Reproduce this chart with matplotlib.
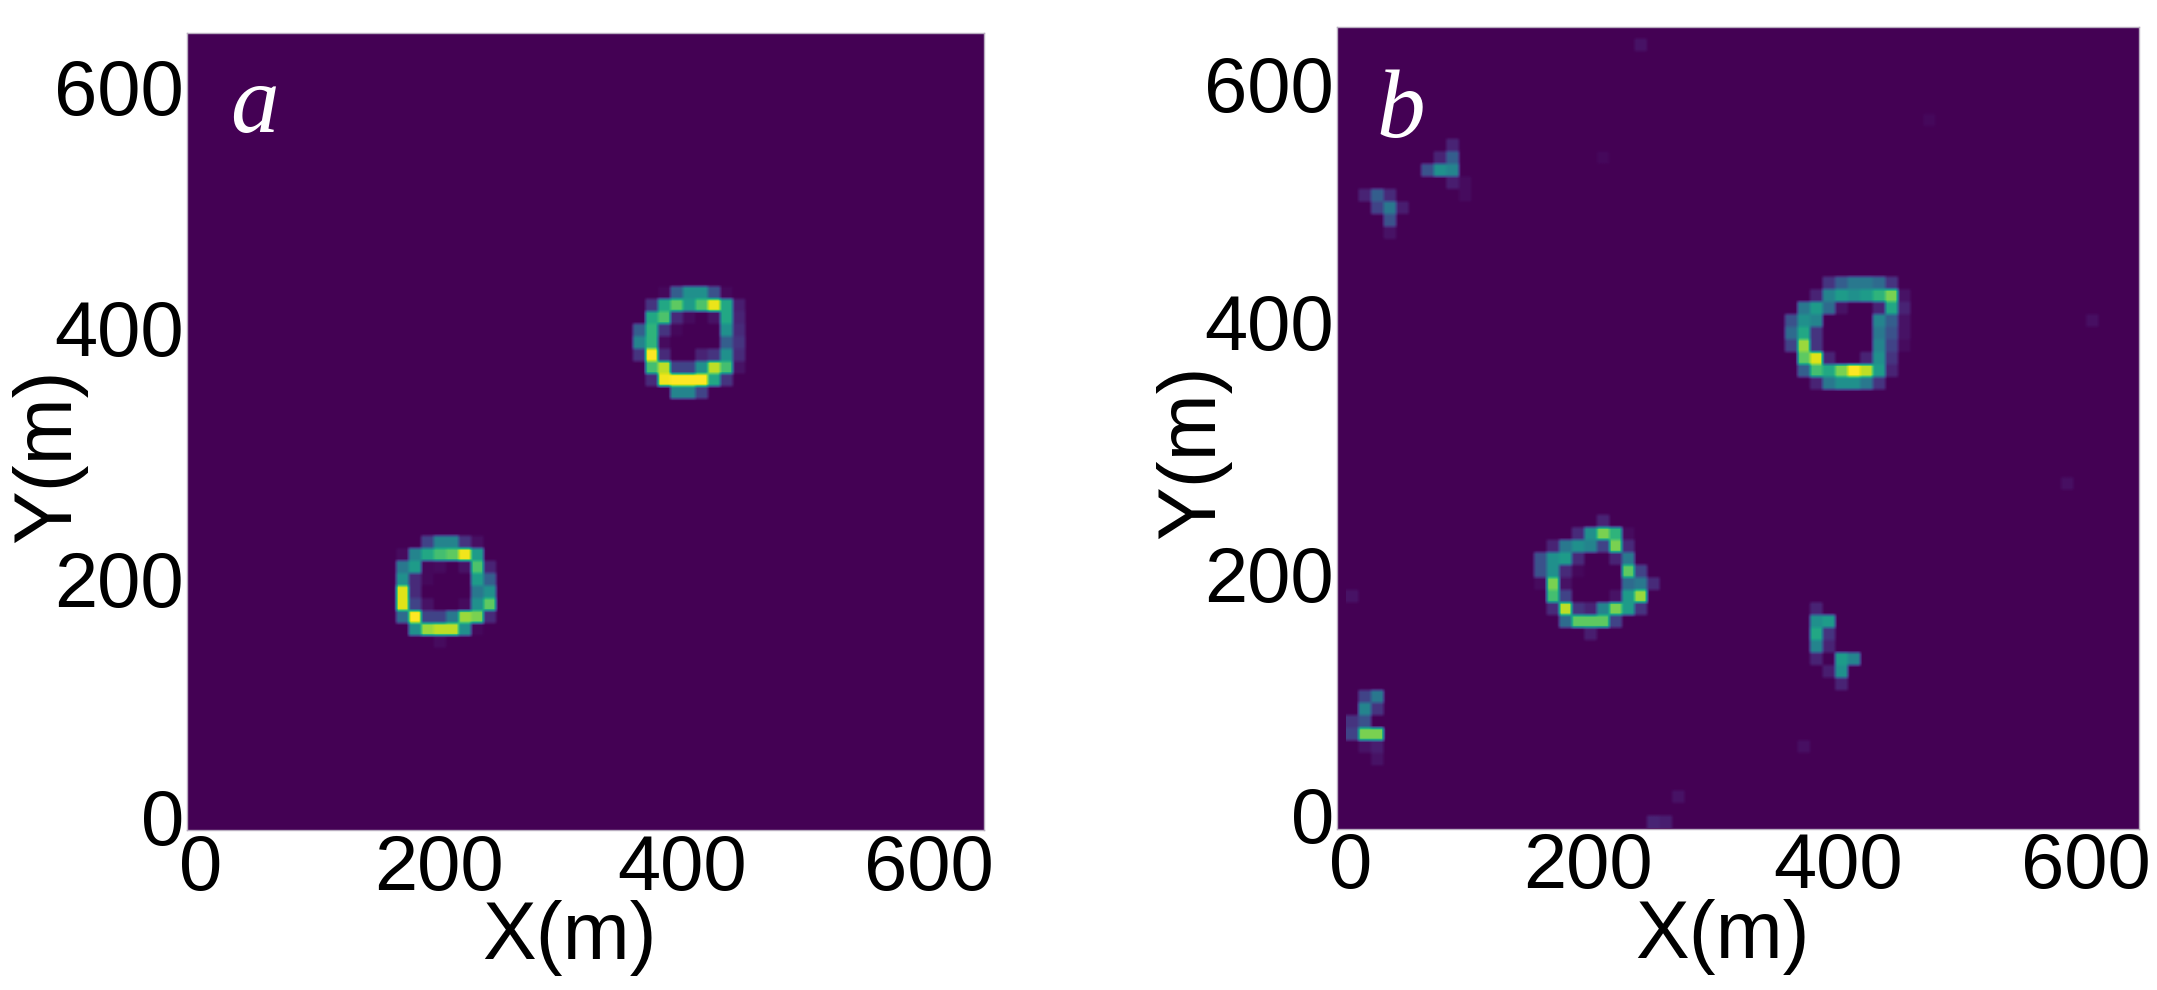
import numpy as np
import matplotlib.pyplot as plt
from matplotlib.transforms import ScaledTranslation

plt.rcParams['font.family'] = ['Liberation Sans', 'DejaVu Sans']

ncell = 64
cell = 10  # metres per cell
ticks = [0, 200, 400, 600]

# each patch: (first column, top row, rows of values from top to bottom)
a_ring1 = (17, 23, [
    [0, 0, .2, .45, .45, .15, .04, 0],
    [.03, .45, .6, .7, .75, .98, .55, 0],
    [.4, .55, .02, .03, 0, .05, .72, .1],
    [.5, .12, .02, 0, 0, 0, .55, .3],
    [.95, .12, 0, 0, 0, 0, .4, .5],
    [.95, .2, .05, 0, 0, .03, .5, .75],
    [.35, 1.0, .2, .2, .4, .85, .8, .12],
    [0, .5, .85, .9, .9, .5, .02, 0],
    [0, 0, 0, .03, 0, 0, 0, 0],
])
a_ring2 = (36, 43, [
    [0, 0, .02, .3, .5, .5, .25, .02, 0],
    [0, .15, .6, .75, .55, .72, .97, .6, .08],
    [0, .6, .72, .12, .03, 0, .05, .6, .1],
    [.3, .65, .15, .02, 0, 0, 0, .5, .12],
    [.45, .65, .03, 0, 0, 0, 0, .3, .15],
    [.15, 1.0, .12, 0, 0, .1, .15, .5, .12],
    [0, .7, .9, .2, .2, .5, .9, .7, .05],
    [0, .12, .98, 1.0, 1.0, 1.0, .6, .15, 0],
    [0, 0, 0, .45, .45, .2, 0, 0, 0],
])

b_ring1 = (15, 24, [
    [0, 0, 0, 0, 0, .1, 0, 0, 0, 0],
    [0, 0, 0, .12, .5, .8, .65, .03, 0, 0],
    [0, .1, .4, .5, .45, .2, .8, .12, 0, 0],
    [.25, .5, .55, .12, 0, 0, .1, .4, 0, 0],
    [.25, .5, .12, .02, 0, 0, 0, .75, .2, 0],
    [.03, .8, .05, 0, 0, 0, 0, .35, .4, .12],
    [0, .7, .2, 0, 0, 0, .05, .55, .85, 0],
    [0, .12, .9, .15, .1, .45, .8, .55, .15, 0],
    [0, 0, .35, .75, .75, .75, .2, 0, 0, 0],
    [0, 0, 0, 0, .08, 0, 0, 0, 0, 0],
])
b_ring2 = (35, 43, [
    [0, 0, 0, .15, .3, .4, .4, .35, .15, 0],
    [0, 0, .1, .45, .55, .5, .55, .65, .8, .05],
    [0, .4, .55, .35, .05, 0, 0, .1, .6, .1],
    [.25, .5, .45, 0, 0, 0, 0, .45, .3, .05],
    [.35, .6, .15, 0, 0, 0, 0, .4, .25, .05],
    [.2, .85, .15, 0, 0, 0, 0, .45, .2, .03],
    [0, .75, .95, .1, 0, 0, .1, .5, .15, 0],
    [0, .3, .7, .6, .8, 1.0, .9, .55, .1, 0],
    [0, 0, .1, .4, .5, .5, .4, .15, 0, 0],
])
b_blob1 = (6, 54, [
    [0, 0, .1, 0],
    [0, .1, .3, 0],
    [.25, .5, .45, 0],
    [0, 0, .08, .03],
])
b_blob2 = (1, 50, [
    [.1, .3, .12, 0],
    [0, .2, .4, .08],
    [0, 0, .25, 0],
    [0, 0, .05, 0],
])
b_blob3 = (0, 10, [
    [0, .2, .4],
    [0, .45, .15],
    [.15, .25, 0],
    [.2, .8, .8],
    [0, .05, .08],
    [0, 0, .05],
])
b_blob4 = (37, 17, [
    [.1, 0, 0, 0],
    [.5, .55, 0, 0],
    [.6, .15, 0, 0],
    [.45, .1, 0, 0],
    [.1, 0, .55, .45],
    [0, .08, .5, 0],
    [0, 0, .1, 0],
])
b_faint = [(23, 62, .05), (59, 40, .04), (57, 27, .04), (36, 6, .04), (24, 0, .1),
           (25, 0, .08), (26, 2, .05), (0, 18, .05), (9, 50, .03), (20, 53, .02), (46, 56, .02)]

a_patches = [a_ring1, a_ring2]
b_patches = [b_ring1, b_ring2, b_blob1, b_blob2, b_blob3, b_blob4]


def build_field(patches, faint=()):
    Z = np.zeros((ncell, ncell))
    for col0, top, rows in patches:
        for i, row in enumerate(rows):
            for j, val in enumerate(row):
                Z[top - i, col0 + j] = val
    for col, row, val in faint:
        Z[row, col] = val
    return Z


def draw_panel(rect, Z, shift, letter, letter_xy, ylabel_x, xoff, yoff):
    ax = fig.add_axes(rect)
    ax.set_facecolor('#440154')
    # repeat cells so the bilinear filter only softens the cell edges
    Zfine = np.repeat(np.repeat(Z, 3, axis=0), 3, axis=1)
    ax.imshow(Zfine, origin='lower', cmap='viridis', vmin=0, vmax=1, interpolation='bilinear',
              extent=[shift[0], ncell * cell + shift[0], shift[1], ncell * cell + shift[1]])
    ax.set_xlim(0, ncell * cell)
    ax.set_ylim(0, ncell * cell)
    ax.set_xticks(ticks)
    ax.set_yticks(ticks)
    ax.tick_params(length=0, labelsize=56, pad=2)
    for sp in ax.spines.values():
        sp.set_color('#b9aec0')
        sp.set_linewidth(1.0)
    # the tick labels sit a little off their ticks in the original
    for lab, dx in zip(ax.get_xticklabels(), xoff):
        lab.set_transform(lab.get_transform() + ScaledTranslation(dx / 72, 0, fig.dpi_scale_trans))
    for lab, dy in zip(ax.get_yticklabels(), yoff):
        lab.set_transform(lab.get_transform() + ScaledTranslation(0, dy / 72, fig.dpi_scale_trans))
    ax.set_xlabel('X(m)', fontsize=58)
    ax.set_ylabel('Y(m)', fontsize=58)
    ax.xaxis.set_label_coords(0.48, -0.088, transform=ax.transAxes)
    ax.yaxis.set_label_coords(ylabel_x, 0.47, transform=ax.transAxes)
    ax.text(letter_xy[0], letter_xy[1], letter, transform=ax.transAxes, color='white', fontsize=70,
            family='Liberation Serif', style='italic', ha='center', va='center')
    return ax


fig = plt.figure(figsize=(21.57, 9.9), dpi=100)
W, H = 2157.0, 990.0

draw_panel([183 / W, 1 - 830 / H, 805 / W, 797 / H], build_field(a_patches), (-2, -4),
           'a', (0.084, 0.905), -0.125, [10, 2, -2, -4], [10, 2, 3, -3])
draw_panel([1337 / W, 1 - 830 / H, 802 / W, 805 / H], build_field(b_patches, b_faint), (7, 0),
           'b', (0.079, 0.891), -0.132, [10, 0, 0, -2], [10, 3, 4, -5])

fig.savefig('out.png', dpi=100)
